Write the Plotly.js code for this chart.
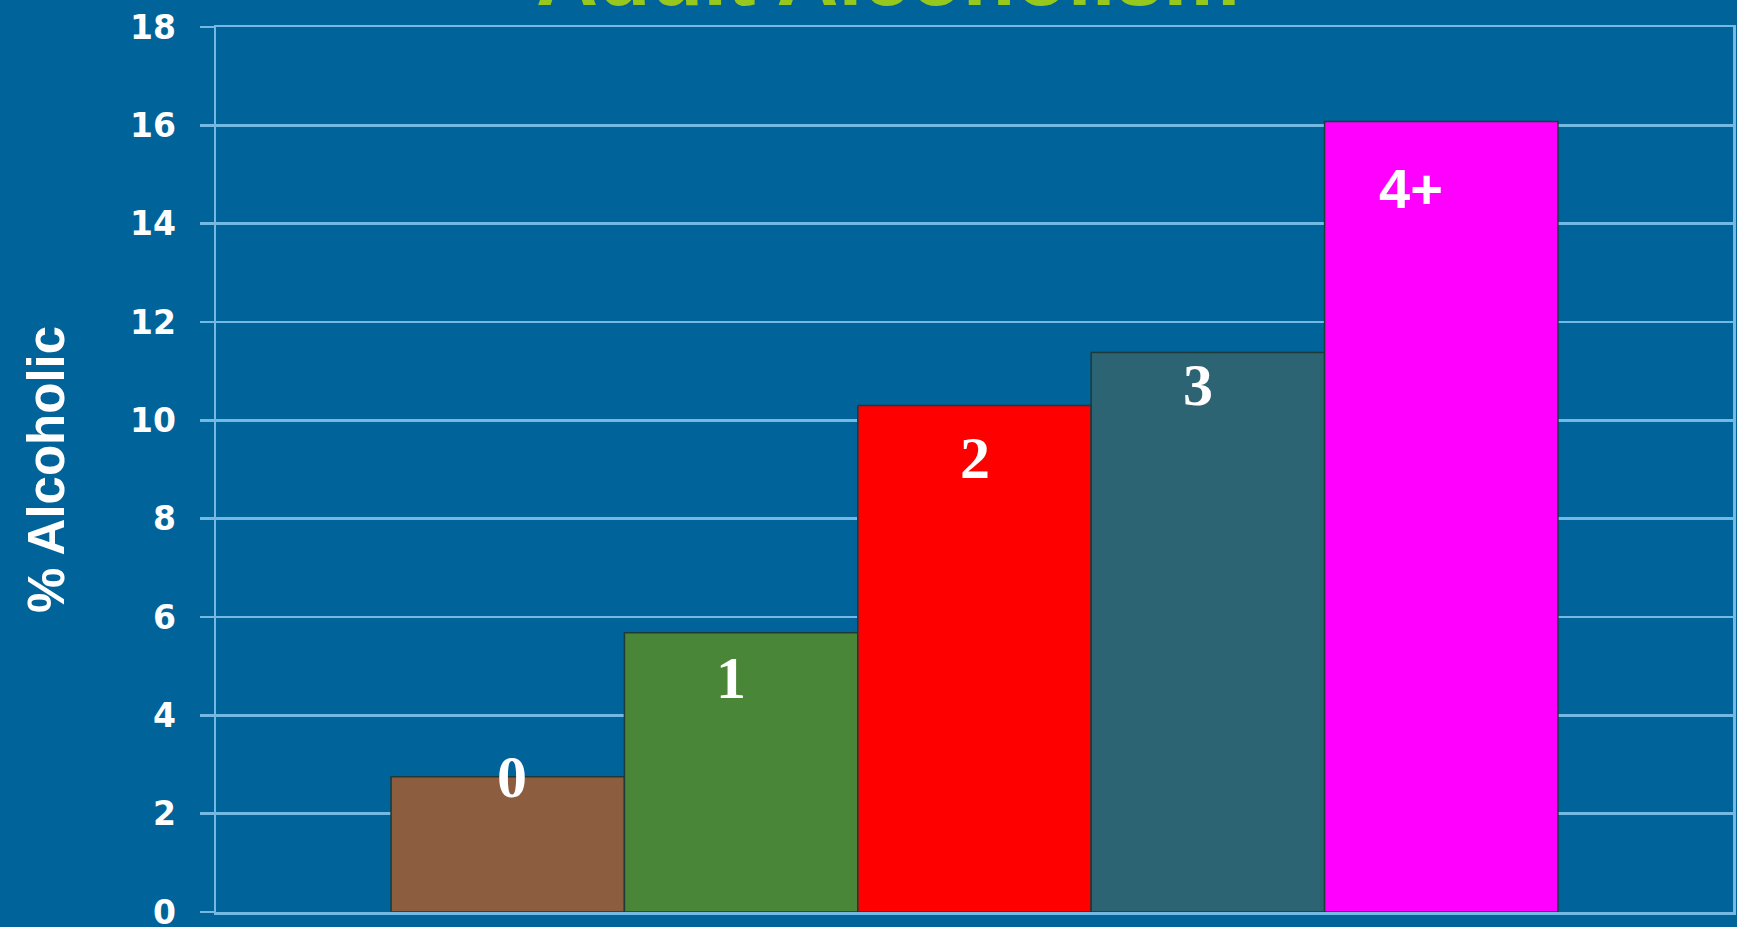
<!DOCTYPE html>
<html>
<head>
<meta charset="utf-8">
<script src="https://cdn.plot.ly/plotly-3.0.1.min.js"></script>
<style>
  html, body { margin: 0; padding: 0; background: #006399; }
  #chart { width: 1737px; height: 927px; }
</style>
</head>
<body>
<div id="chart"></div>
<script>
// Data
var categories = ["0", "1", "2", "3", "4+"];
var values = [2.75, 5.68, 10.3, 11.38, 16.08];
var yTicks = [0, 2, 4, 6, 8, 10, 12, 14, 16, 18];
var chartTitle = "Adult Alcoholism";
var yTitle = "% Alcoholic";

// Styling
var barColors = ["#8C5E3F", "#4A8638", "#FF0000", "#2C6473", "#FF00FF"];
var labelFonts = ["Liberation Serif", "Liberation Serif", "Liberation Serif", "Liberation Serif", "Liberation Sans"];
var labelSizes = [60, 60, 60, 60, 56];
var labelShiftsY = [0, -45, -52, -33, -67];
var labelShiftsX = [4, -10, 0, -10, -30];
var gridColor = "#74B9E4";
var bg = "#006399";
var marginL = 216, marginR = 4;
var plotW = 1737 - marginL - marginR;

var xs = categories.map(function (c, i) { return i; });

var trace = {
  type: "bar",
  x: xs,
  y: values,
  width: 1,
  marker: {
    color: barColors,
    line: { color: "#1E3A3A", width: 1.5 }
  },
  hoverinfo: "skip"
};

var annotations = categories.map(function (c, i) {
  return {
    x: xs[i], y: values[i], xref: "x", yref: "y",
    text: "<b>" + c + "</b>",
    showarrow: false,
    xanchor: "center", yanchor: "middle",
    yshift: labelShiftsY[i],
    xshift: labelShiftsX[i],
    font: { family: labelFonts[i], size: labelSizes[i], color: "#FFFFFF" }
  };
});

// Chart title, placed like the reference: mostly above the top edge of the picture
annotations.push({
  x: (888 - marginL) / plotW, xref: "paper", y: 1, yref: "paper",
  xanchor: "center", yanchor: "bottom",
  yshift: 2,
  showarrow: false,
  text: "<b>" + chartTitle + "</b>",
  font: { family: "Liberation Sans", size: 86, color: "#96C81E" }
});

var layout = {
  width: 1737,
  height: 927,
  paper_bgcolor: bg,
  plot_bgcolor: bg,
  margin: { l: marginL, r: marginR, t: 27, b: 15 },
  showlegend: false,
  xaxis: {
    range: [-1.25, 5.25],
    showticklabels: false,
    showgrid: false,
    zeroline: false,
    showline: true,
    mirror: true,
    linecolor: gridColor,
    linewidth: 2.5,
    ticks: "",
    fixedrange: true
  },
  yaxis: {
    range: [0, 18],
    tickvals: yTicks,
    ticktext: yTicks.map(String),
    tickfont: { family: "DejaVu Sans", size: 33, color: "#FFFFFF", weight: "bold" },
    ticklabeloverflow: "allow",
    showgrid: true,
    gridcolor: gridColor,
    gridwidth: 2.5,
    zeroline: false,
    showline: true,
    linecolor: gridColor,
    linewidth: 2.5,
    mirror: true,
    ticks: "outside",
    ticklen: 14,
    tickwidth: 2.5,
    tickcolor: gridColor,
    ticklabelstandoff: 17,
    title: {
      text: "<b>" + yTitle + "</b>",
      font: { family: "Liberation Sans", size: 51, color: "#FFFFFF" },
      standoff: 49
    },
    fixedrange: true
  },
  annotations: annotations
};

Plotly.newPlot("chart", [trace], layout, { displayModeBar: false, staticPlot: true });
</script>
</body>
</html>
